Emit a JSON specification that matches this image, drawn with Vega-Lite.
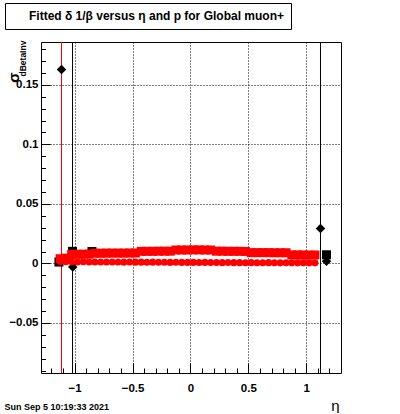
{
  "$schema": "https://vega.github.io/schema/vega-lite/v6.json",
  "padding": {"left": 4, "top": 2, "right": 5, "bottom": 0},
  "background": "white",
  "config": {"font": "Liberation Sans"},
  "width": 300,
  "height": 331,
  "view": {"stroke": "black", "strokeWidth": 1, "fill": "white"},
  "datasets": {
    "upper": [
      {"eta": -1.125, "v": 0.0040}, {"eta": -1.075, "v": 0.0045}, {"eta": -1.025, "v": 0.0077}, {"eta": -0.975, "v": 0.0077},
      {"eta": -0.925, "v": 0.0078}, {"eta": -0.875, "v": 0.0078}, {"eta": -0.825, "v": 0.0086}, {"eta": -0.775, "v": 0.0086},
      {"eta": -0.725, "v": 0.0087}, {"eta": -0.675, "v": 0.0087}, {"eta": -0.625, "v": 0.0087}, {"eta": -0.575, "v": 0.0087},
      {"eta": -0.525, "v": 0.0088}, {"eta": -0.475, "v": 0.0088}, {"eta": -0.425, "v": 0.0102}, {"eta": -0.375, "v": 0.0102},
      {"eta": -0.325, "v": 0.0102}, {"eta": -0.275, "v": 0.0103}, {"eta": -0.225, "v": 0.0103}, {"eta": -0.175, "v": 0.0103},
      {"eta": -0.125, "v": 0.0113}, {"eta": -0.075, "v": 0.0113}, {"eta": -0.025, "v": 0.0113}, {"eta": 0.025, "v": 0.0114},
      {"eta": 0.075, "v": 0.0114}, {"eta": 0.125, "v": 0.0113}, {"eta": 0.175, "v": 0.0113}, {"eta": 0.225, "v": 0.0103},
      {"eta": 0.275, "v": 0.0103}, {"eta": 0.325, "v": 0.0102}, {"eta": 0.375, "v": 0.0102}, {"eta": 0.425, "v": 0.0102},
      {"eta": 0.475, "v": 0.0101}, {"eta": 0.525, "v": 0.0091}, {"eta": 0.575, "v": 0.0091}, {"eta": 0.625, "v": 0.0091},
      {"eta": 0.675, "v": 0.0091}, {"eta": 0.725, "v": 0.0090}, {"eta": 0.775, "v": 0.0090}, {"eta": 0.825, "v": 0.0090},
      {"eta": 0.875, "v": 0.0072}, {"eta": 0.925, "v": 0.0072}, {"eta": 0.975, "v": 0.0071}, {"eta": 1.025, "v": 0.0071},
      {"eta": 1.075, "v": 0.0071}
    ],
    "lower": [
      {"eta": -1.125, "v": 0.0016}, {"eta": -1.075, "v": 0.0015}, {"eta": -1.025, "v": 0.0014}, {"eta": -0.975, "v": 0.0013},
      {"eta": -0.925, "v": 0.0014}, {"eta": -0.875, "v": 0.0013}, {"eta": -0.825, "v": 0.0013}, {"eta": -0.775, "v": 0.0012},
      {"eta": -0.725, "v": 0.0013}, {"eta": -0.675, "v": 0.0012}, {"eta": -0.625, "v": 0.0012}, {"eta": -0.575, "v": 0.0011},
      {"eta": -0.525, "v": 0.0012}, {"eta": -0.475, "v": 0.0011}, {"eta": -0.425, "v": 0.0011}, {"eta": -0.375, "v": 0.0010},
      {"eta": -0.325, "v": 0.0011}, {"eta": -0.275, "v": 0.0010}, {"eta": -0.225, "v": 0.0010}, {"eta": -0.175, "v": 0.0009},
      {"eta": -0.125, "v": 0.0010}, {"eta": -0.075, "v": 0.0009}, {"eta": -0.025, "v": 0.0009}, {"eta": 0.025, "v": 0.0009},
      {"eta": 0.075, "v": 0.0008}, {"eta": 0.125, "v": 0.0009}, {"eta": 0.175, "v": 0.0008}, {"eta": 0.225, "v": 0.0008},
      {"eta": 0.275, "v": 0.0007}, {"eta": 0.325, "v": 0.0008}, {"eta": 0.375, "v": 0.0007}, {"eta": 0.425, "v": 0.0007},
      {"eta": 0.475, "v": 0.0006}, {"eta": 0.525, "v": 0.0007}, {"eta": 0.575, "v": 0.0006}, {"eta": 0.625, "v": 0.0006},
      {"eta": 0.675, "v": 0.0007}, {"eta": 0.725, "v": 0.0006}, {"eta": 0.775, "v": 0.0005}, {"eta": 0.825, "v": 0.0006},
      {"eta": 0.875, "v": 0.0005}, {"eta": 0.925, "v": 0.0005}, {"eta": 0.975, "v": 0.0006}, {"eta": 1.025, "v": 0.0005},
      {"eta": 1.075, "v": 0.0005}
    ],
    "blackSquares": [
      {"eta": -1.135, "v": 0.0012}, {"eta": -1.018, "v": 0.0102}, {"eta": -0.85, "v": 0.0100}, {"eta": 1.175, "v": 0.0073}
    ],
    "blackDiamonds": [
      {"eta": -1.113, "v": 0.163}, {"eta": -1.016, "v": -0.003}, {"eta": 1.123, "v": 0.0294}, {"eta": 1.175, "v": 0.0018}
    ],
    "blackLines": [{"eta": -1.018}, {"eta": 1.123}],
    "redLines": [{"eta": -1.113}]
  },
  "resolve": {"axis": {"x": "independent", "y": "independent"}},
  "layer": [
    {
      "data": {"name": "blackLines"},
      "mark": {"type": "rule", "color": "black", "strokeWidth": 1},
      "encoding": {
        "x": {
          "field": "eta", "type": "quantitative",
          "scale": {"domain": [-1.29, 1.3], "nice": false, "zero": false},
          "axis": {
            "orient": "bottom",
            "values": [-1, -0.5, 0, 0.5, 1],
            "format": "~g",
            "labelFont": "Liberation Sans", "labelFontWeight": "bold", "labelFontSize": 11.5, "labelColor": "black",
            "labelPadding": 19, "labelFlush": false, "labelOverlap": false,
            "tickSize": -10, "tickColor": "black", "tickWidth": 1,
            "domain": false,
            "grid": true, "gridColor": "black", "gridDash": [1, 2], "gridOpacity": 1, "gridWidth": 1,
            "title": "η", "titleFont": "Liberation Sans", "titleFontWeight": "normal", "titleFontSize": 15, "titleColor": "black",
            "titleX": 298, "titleY": 37, "titleAlign": "right", "titleBaseline": "alphabetic"
          }
        }
      }
    },
    {
      "data": {"name": "redLines"},
      "mark": {"type": "rule", "color": "#ff0000", "stroke": "#ff0000", "strokeWidth": 1},
      "encoding": {
        "x": {"field": "eta", "type": "quantitative", "scale": {"domain": [-1.29, 1.3], "nice": false, "zero": false}, "axis": null}
      }
    },
    {
      "data": {"name": "blackSquares"},
      "mark": {"type": "point", "shape": "square", "filled": true, "size": 81, "color": "black", "opacity": 1, "strokeWidth": 0},
      "encoding": {
        "x": {
          "field": "eta", "type": "quantitative",
          "scale": {"domain": [-1.29, 1.3], "nice": false, "zero": false},
          "axis": {
            "orient": "bottom",
            "values": [-1.2, -1.1, -1.0, -0.9, -0.8, -0.7, -0.6, -0.5, -0.4, -0.3, -0.2, -0.1, 0, 0.1, 0.2, 0.3, 0.4, 0.5, 0.6, 0.7, 0.8, 0.9, 1.0, 1.1, 1.2],
            "labels": false,
            "tickSize": -5, "tickColor": "black", "tickWidth": 1,
            "domain": false, "grid": false,
            "title": "Sun Sep  5 10:19:33 2021", "titleFont": "Liberation Sans", "titleFontWeight": "bold", "titleFontSize": 9, "titleColor": "black",
            "titleX": -37, "titleY": 36, "titleAlign": "left", "titleBaseline": "alphabetic"
          }
        },
        "y": {
          "field": "v", "type": "quantitative",
          "scale": {"domain": [-0.092, 0.186], "nice": false, "zero": false},
          "axis": {
            "orient": "left",
            "values": [-0.05, 0, 0.05, 0.1, 0.15],
            "format": "~g",
            "labelFont": "Liberation Sans", "labelFontWeight": "bold", "labelFontSize": 11.5, "labelColor": "black",
            "labelPadding": 12, "labelFlush": false, "labelOverlap": false,
            "tickSize": -9, "tickColor": "black", "tickWidth": 1,
            "domain": false,
            "grid": true, "gridColor": "black", "gridDash": [1, 2], "gridOpacity": 1, "gridWidth": 1,
            "title": "σ", "titleFont": "Liberation Sans", "titleFontWeight": "bold", "titleFontSize": 15, "titleColor": "black",
            "titleAngle": -90, "titleX": -23, "titleY": 35, "titleAlign": "center", "titleBaseline": "alphabetic"
          }
        }
      }
    },
    {
      "data": {"name": "blackDiamonds"},
      "mark": {"type": "point", "shape": "diamond", "filled": true, "size": 90, "color": "black", "opacity": 1, "strokeWidth": 0},
      "encoding": {
        "x": {"field": "eta", "type": "quantitative", "scale": {"domain": [-1.29, 1.3], "nice": false, "zero": false}, "axis": null},
        "y": {"field": "v", "type": "quantitative", "scale": {"domain": [-0.092, 0.186], "nice": false, "zero": false}, "axis": null}
      }
    },
    {
      "data": {"name": "upper"},
      "mark": {"type": "point", "shape": "square", "filled": true, "size": 81, "color": "#ff0000", "opacity": 1, "strokeWidth": 0},
      "encoding": {
        "x": {"field": "eta", "type": "quantitative", "scale": {"domain": [-1.29, 1.3], "nice": false, "zero": false}, "axis": null},
        "y": {
          "field": "v", "type": "quantitative",
          "scale": {"domain": [-0.092, 0.186], "nice": false, "zero": false},
          "axis": {
            "orient": "left",
            "values": [-0.09, -0.08, -0.07, -0.06, -0.05, -0.04, -0.03, -0.02, -0.01, 0, 0.01, 0.02, 0.03, 0.04, 0.05, 0.06, 0.07, 0.08, 0.09, 0.1, 0.11, 0.12, 0.13, 0.14, 0.15, 0.16, 0.17, 0.18],
            "labels": false,
            "tickSize": -4.5, "tickColor": "black", "tickWidth": 1,
            "domain": false, "grid": false,
            "title": "dBetaInv", "titleFont": "Liberation Sans", "titleFontWeight": "bold", "titleFontSize": 8.5, "titleColor": "black",
            "titleAngle": -90, "titleX": -16, "titleY": 34, "titleAlign": "left", "titleBaseline": "alphabetic"
          }
        }
      }
    },
    {
      "data": {"name": "lower"},
      "mark": {"type": "point", "shape": "circle", "filled": true, "size": 50, "opacity": 1, "strokeWidth": 0},
      "encoding": {
        "x": {"field": "eta", "type": "quantitative", "scale": {"domain": [-1.29, 1.3], "nice": false, "zero": false}, "axis": null},
        "y": {"field": "v", "type": "quantitative", "scale": {"domain": [-0.092, 0.186], "nice": false, "zero": false}, "axis": null},
        "color": {
          "datum": "Fitted δ 1/β versus η and p for Global muon+",
          "type": "nominal",
          "scale": {"range": ["#ff0000"]},
          "legend": {
            "orient": "none", "legendX": -36, "legendY": -39,
            "title": null,
            "strokeColor": "black", "fillColor": "white", "cornerRadius": 0, "padding": 7,
            "labelFont": "Liberation Sans", "labelFontWeight": "bold", "labelFontSize": 12, "labelColor": "black",
            "labelLimit": 400, "labelOffset": 5, "labelExpr": "datum.label + '           '",
            "symbolType": "square", "symbolSize": 49, "symbolOpacity": 0, "symbolStrokeWidth": 0
          }
        }
      }
    }
  ]
}
